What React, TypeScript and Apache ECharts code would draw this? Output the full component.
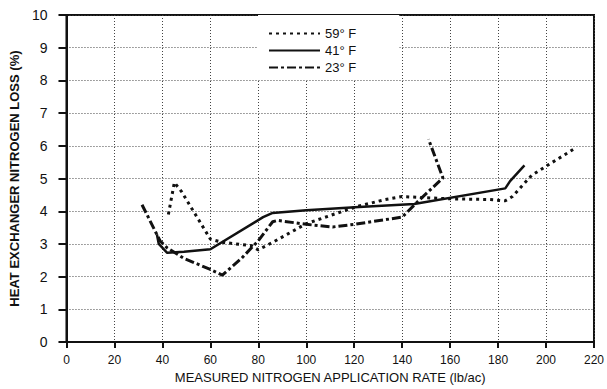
import React, { useEffect, useRef } from "react";
import * as echarts from "echarts";

const seriesNames = ["59° F", "41° F", "23° F"];

const s59: [number, number][] = [
  [42.5, 3.9], [45, 4.88], [48, 4.6], [60, 3.15], [65, 3.05], [77, 2.95], [80, 2.82],
  [86, 3.05], [100, 3.62], [112, 3.92], [122, 4.16], [133, 4.36], [140, 4.45],
  [148, 4.42], [160, 4.38], [176, 4.36], [183, 4.32], [186, 4.45], [194, 5.1],
  [201, 5.42], [212, 5.92],
];

const s41: [number, number][] = [
  [37.7, 3.3], [38.5, 3.0], [42, 2.73], [49, 2.76], [60, 2.84], [82, 3.82], [86, 3.95],
  [100, 4.03], [122, 4.13], [145, 4.22], [183, 4.7], [185, 4.92], [191, 5.4],
];

const s23: [number, number][] = [
  [31.5, 4.2], [39, 3.1], [42, 2.88], [49, 2.56], [60, 2.22], [65, 2.05], [73, 2.56],
  [80, 3.1], [86, 3.68], [88, 3.72], [100, 3.6], [111, 3.52], [120, 3.6], [140, 3.82],
  [146, 4.26], [157, 5.02], [151, 6.2],
];

const FONT = "'Liberation Sans', Arial, Helvetica, sans-serif";

export default function App() {
  const ref = useRef<HTMLDivElement>(null);
  useEffect(() => {
    if (!ref.current) return;
    const chart = echarts.init(ref.current, null, { renderer: "svg" });
    const grid = { color: "#444", type: [1, 2] as number[], width: 1 };
    chart.setOption({
      animation: false,
      backgroundColor: "#fff",
      textStyle: { fontFamily: FONT, color: "#111" },
      grid: {
        left: 63,
        right: 10,
        top: 15,
        bottom: 40,
        show: true,
        borderColor: "#111",
        borderWidth: 2,
        backgroundColor: "transparent",
      },
      legend: {
        orient: "vertical",
        left: 258,
        top: 15,
        padding: [12, 43, 6, 10],
        backgroundColor: "#fff",
        itemWidth: 51,
        itemHeight: 12,
        itemGap: 4,
        itemStyle: { opacity: 0 },
        textStyle: { fontSize: 13, color: "#111", fontFamily: FONT },
        data: seriesNames,
      },
      xAxis: {
        type: "value",
        min: 0,
        max: 220,
        interval: 20,
        name: "MEASURED NITROGEN APPLICATION RATE (lb/ac)",
        nameLocation: "middle",
        nameGap: 26,
        nameTextStyle: { fontSize: 13, color: "#111", fontFamily: FONT },
        axisLine: { show: true, onZero: false, lineStyle: { color: "#111", width: 2 } },
        axisTick: { show: true, length: 6, lineStyle: { color: "#111", width: 2 } },
        axisLabel: { fontSize: 12, color: "#111", margin: 12, fontFamily: FONT },
        splitLine: { show: true, lineStyle: grid },
      },
      yAxis: {
        type: "value",
        min: 0,
        max: 10,
        interval: 1,
        name: "HEAT EXCHANGER NITROGEN LOSS (%)",
        nameLocation: "middle",
        nameGap: 35,
        nameTextStyle: { fontSize: 13, fontWeight: "bold", color: "#111", fontFamily: FONT },
        axisLine: { show: true, lineStyle: { color: "#111", width: 2 } },
        axisTick: { show: true, length: 8, lineStyle: { color: "#111", width: 2 } },
        axisLabel: { fontSize: 14, color: "#111", margin: 19, fontFamily: FONT },
        splitLine: { show: true, lineStyle: grid },
      },
      series: [
        {
          name: seriesNames[0],
          type: "line",
          data: s59,
          symbol: "none",
          z: 3,
          lineStyle: { color: "#111", width: 3, type: [3, 4] },
          itemStyle: { color: "#111" },
        },
        {
          name: seriesNames[1],
          type: "line",
          data: s41,
          symbol: "none",
          z: 4,
          lineStyle: { color: "#111", width: 2.5, type: "solid" },
          itemStyle: { color: "#111" },
        },
        {
          name: seriesNames[2],
          type: "line",
          data: s23,
          symbol: "none",
          z: 3,
          lineStyle: { color: "#111", width: 3, type: [9, 3, 3, 3] },
          itemStyle: { color: "#111" },
        },
      ],
    });
    return () => chart.dispose();
  }, []);
  return <div ref={ref} style={{ width: 607, height: 389, position: "absolute", left: 0, top: 0 }} />;
}
